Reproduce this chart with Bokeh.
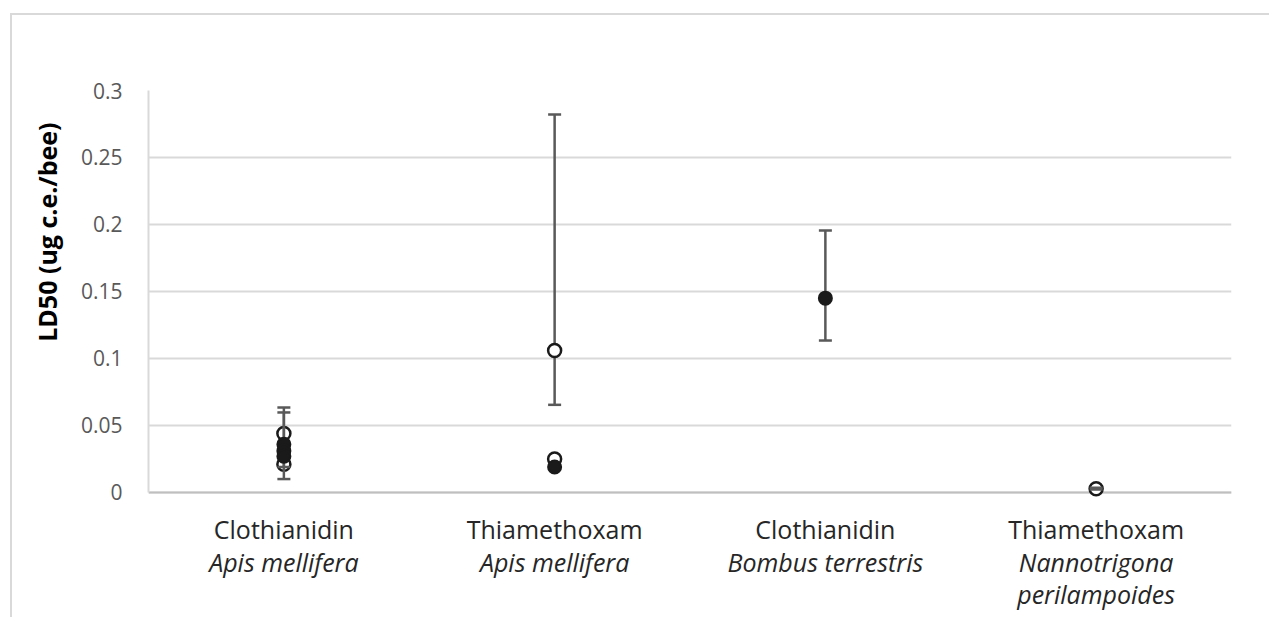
from bokeh.embed import file_html
from bokeh.models import ColumnDataSource, FactorRange, FixedTicker, Range1d, Title
from bokeh.plotting import figure
from bokeh.resources import INLINE

# Compound / species combinations along the x axis
compounds = ["Clothianidin", "Thiamethoxam", "Clothianidin", "Thiamethoxam"]
species = ["Apis mellifera", "Apis mellifera", "Bombus terrestris",
           "Nannotrigona\nperilampoides"]

# LD50 estimates (ug c.e./bee); open = one study type, filled = the other
open_group = [0, 0, 1, 1, 3]
open_ld50 = [0.044, 0.021, 0.106, 0.025, 0.0028]
filled_group = [0, 0, 0, 1, 2]
filled_ld50 = [0.036, 0.031, 0.027, 0.019, 0.145]

# Confidence limits drawn beneath the open markers
ci_back_group = [1]
ci_back_low = [0.0654]
ci_back_high = [0.282]
# Confidence limits drawn over the open markers
ci_front_group = [0, 0, 2, 3]
ci_front_low = [0.019, 0.010, 0.1134, 0.0022]
ci_front_high = [0.0634, 0.0597, 0.1955, 0.0035]

y_ticks = [0, 0.05, 0.1, 0.15, 0.2, 0.25, 0.3]
y_tick_labels = ["0", "0.05", "0.1", "0.15", "0.2", "0.25", "0.3"]
y_title = "LD50 (ug c.e./bee)"

FONT = "Open Sans"
INK = "#1a1a1a"
BAR = "#595959"
EDGE = "#d9d9d9"

# Two-level factors: species (outer, shown in italic below) and compound (inner).
# A zero-width mark keeps repeated species names as separate groups.
groups = []
for i, (c, s) in enumerate(zip(compounds, species)):
    outer = s + "\u200b" * species[:i].count(s)
    groups.append((outer, c))

x_range = FactorRange(*groups, group_padding=0, factor_padding=0, range_padding=0)

# the frame reaches a little below zero so the labels sit further down
p = figure(width=1259, height=604, x_range=x_range,
           y_range=Range1d(-0.0172, 0.3), output_backend="svg",
           toolbar_location=None, min_border_left=136, min_border_right=40,
           min_border_top=75, min_border_bottom=104)
p.margin = (13, 0, 0, 10)
p.styles = {"border-left": f"2px solid {EDGE}", "border-top": f"2px solid {EDGE}"}
p.outline_line_color = None
p.background_fill_color = "white"
p.border_fill_color = "white"
p.xgrid.visible = False

yax = p.yaxis[0]
yax.ticker = FixedTicker(ticks=y_ticks)
yax.major_label_overrides = {float(t): lbl for t, lbl in zip(y_ticks, y_tick_labels)}
yax.bounds = (0, 0.3)
yax.axis_line_color = EDGE
yax.axis_line_width = 2
yax.major_tick_line_color = None
yax.minor_tick_line_color = None
yax.major_label_standoff = 20
yax.major_label_text_font = FONT
yax.major_label_text_font_size = "21px"
yax.major_label_text_color = BAR

p.ygrid.grid_line_color = EDGE
p.ygrid.grid_line_width = 2

p.add_layout(Title(text=y_title, align="right", offset=32, standoff=28,
                   text_font=FONT, text_font_style="bold",
                   text_font_size="25px", text_color="black"), "left")

xax = p.xaxis[0]
xax.axis_line_color = None
xax.major_tick_line_color = None
xax.minor_tick_line_color = None
xax.major_tick_out = 0
xax.major_tick_in = 0
xax.separator_line_color = None
xax.major_label_standoff = -4
xax.major_label_text_font = FONT
xax.major_label_text_font_size = "25px"
xax.major_label_text_color = "#262626"
xax.group_text_font = FONT
xax.group_text_font_size = "25px"
xax.group_text_font_style = "italic"
xax.group_text_color = "#262626"
xax.group_text_line_height = 0.97


def whiskers(gidx, low, high):
    src = ColumnDataSource(dict(x=[groups[i] for i in gidx], low=low, high=high))
    p.segment(x0="x", y0="low", x1="x", y1="high", source=src,
              line_color=BAR, line_width=2.5)
    p.scatter(x="x", y="low", source=src, marker="dash", size=13,
              line_color=BAR, line_width=2.5)
    p.scatter(x="x", y="high", source=src, marker="dash", size=13,
              line_color=BAR, line_width=2.5)


# horizontal axis line at zero
p.hspan(y=[0], line_color="#bfbfbf", line_width=2)

whiskers(ci_back_group, ci_back_low, ci_back_high)
p.scatter(x=[groups[i] for i in open_group], y=open_ld50, marker="circle",
          size=13, fill_color="white", line_color=INK, line_width=2.5)
whiskers(ci_front_group, ci_front_low, ci_front_high)
p.scatter(x=[groups[i] for i in filled_group], y=filled_ld50, marker="circle",
          size=13, fill_color=INK, line_color=INK, line_width=2)

open("out.html", "w").write(file_html(p, INLINE))
